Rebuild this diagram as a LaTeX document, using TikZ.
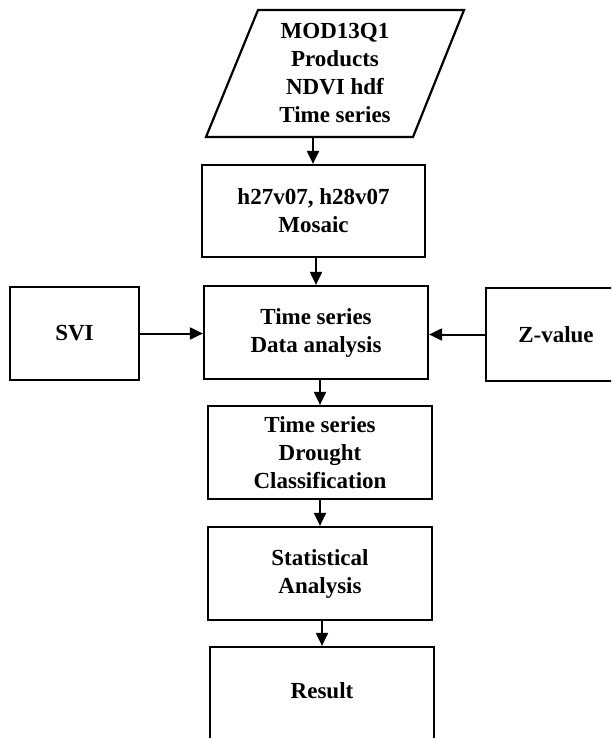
\documentclass[tikz,border=0pt]{standalone}
\usepackage{fontspec}
\setmainfont{Liberation Serif}
\usetikzlibrary{arrows.meta}
\begin{document}
\begin{tikzpicture}[x=1pt,y=-1pt,
  box/.style={draw=black,line width=2.2pt,minimum width=224pt,minimum height=93pt,inner sep=0pt,
    align=center,font=\fontsize{23}{28}\selectfont\bfseries},
  txt/.style={align=center,font=\fontsize{23}{28}\selectfont\bfseries,inner sep=0pt},
  arr/.style={line width=2pt,-{Triangle[length=13pt,width=12pt]}}]
\useasboundingbox (0,0) rectangle (611,738);
\clip (0,0) rectangle (611,738);
\fill[white] (0,0) rectangle (611,738);
% source parallelogram
\coordinate (p1) at (258,10);
\coordinate (p2) at (464,10);
\coordinate (p3) at (413,137);
\coordinate (p4) at (206,137);
\draw[line width=2.2pt,line join=miter] (p1) -- (p2) -- (p3) -- (p4) -- cycle;
\node[txt] (src) at (335,73) {MOD13Q1\\Products\\NDVI hdf\\Time series};
\coordinate (srcb) at (313,137);
% boxes
\node[box,minimum width=223pt,minimum height=92pt] (mos) at (313.5,211) {\textbf{h}27v07, \textbf{h}28v07\\Mosaic};
\node[box] (data) at (316,332.5) {Time series\\Data analysis};
\node[box,minimum width=129pt] (svi) at (74.5,333.5) {SVI};
\node[box,minimum width=160pt] (zv) at (566,334.5) {};
\node[txt] (zvt) at (556,334.5) {Z-value};
\node[box] (dro) at (320,452.5) {Time series\\Drought\\Classification};
\node[box] (stat) at (320,573.5) {Statistical\\Analysis};
\node[box,minimum height=94pt] (res) at (322,694) {};
\node[txt] (rest) at (322,691) {Result};
% connectors
\draw[arr] (srcb) -- (srcb |- mos.north);
\draw[arr] (data.north |- mos.south) -- (data.north);
\draw[arr] (dro.north |- data.south) -- (dro.north);
\draw[arr] (stat.north |- dro.south) -- (stat.north);
\draw[arr] (res.north |- stat.south) -- (res.north);
\draw[arr] (svi.east) -- (svi.east -| data.west);
\draw[arr] (zv.west) -- (zv.west -| data.east);
\end{tikzpicture}
\end{document}
